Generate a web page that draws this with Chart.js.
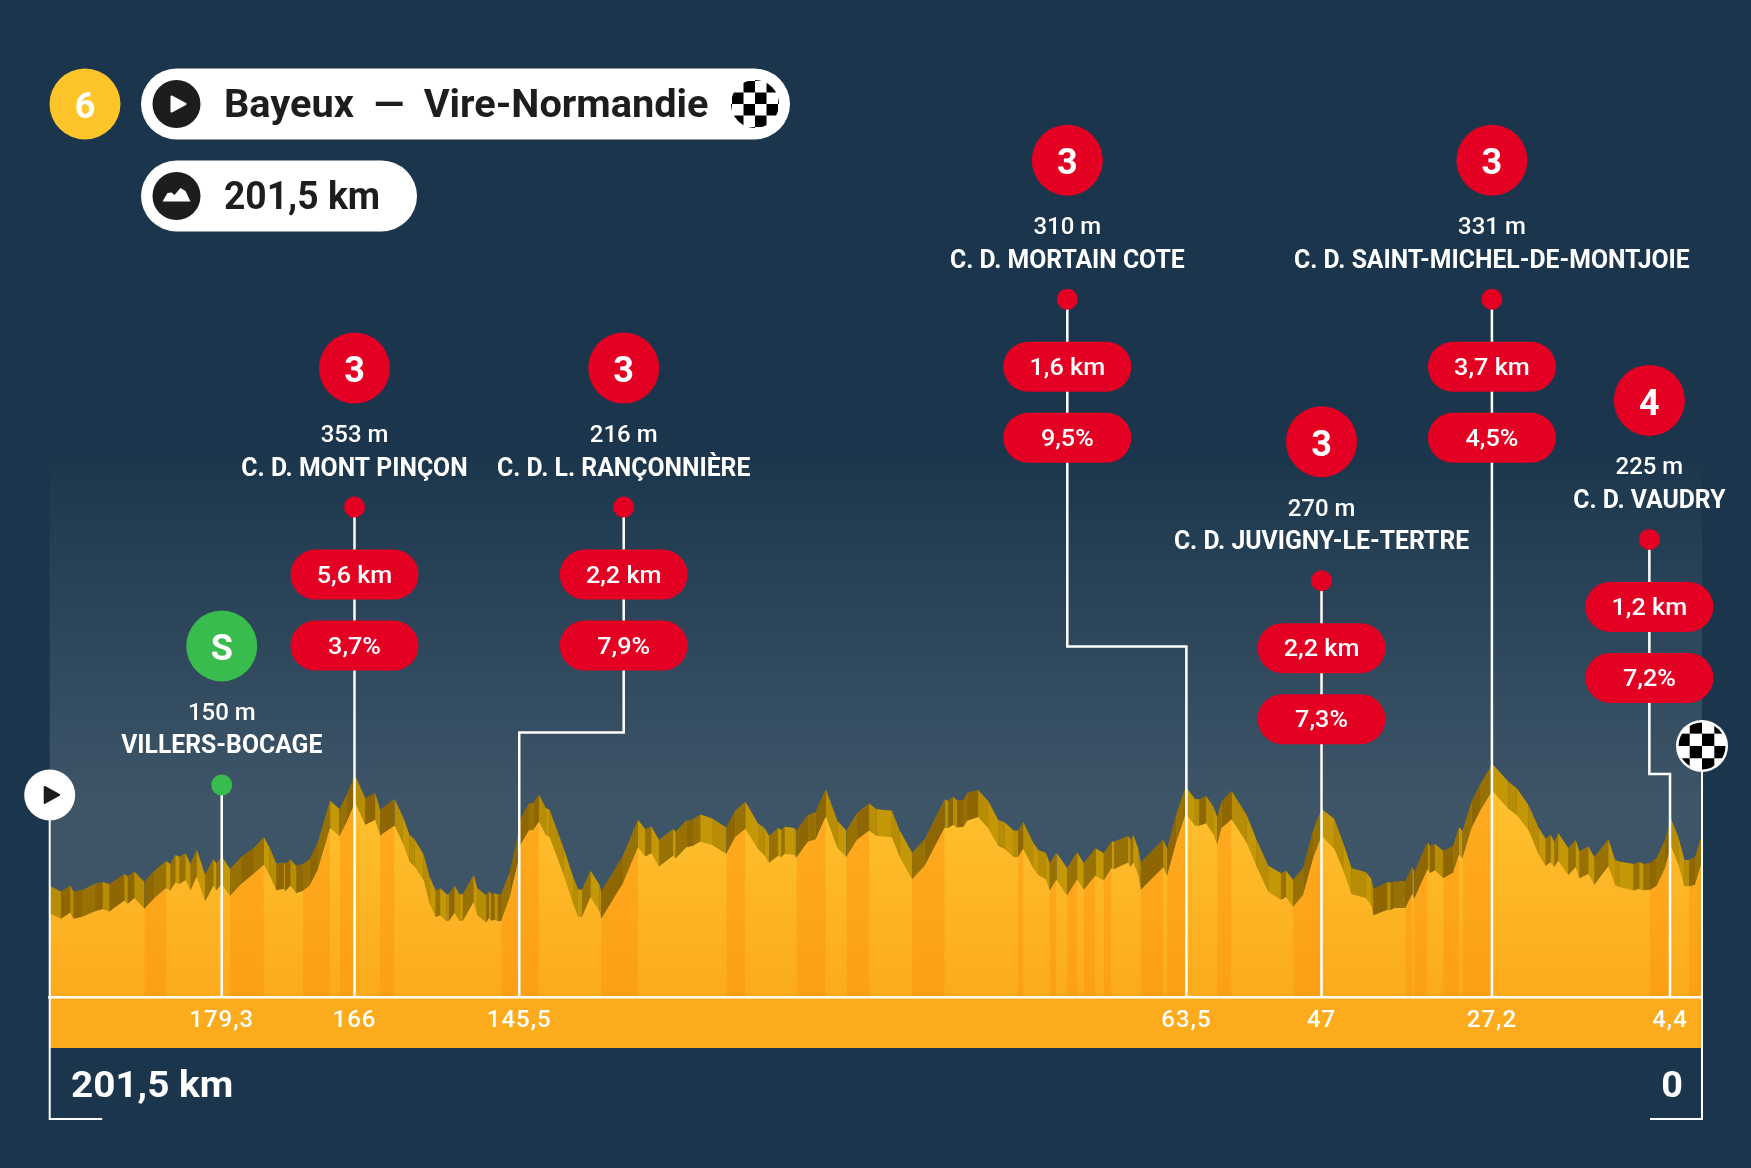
<!DOCTYPE html>
<html>
<head>
<meta charset="utf-8">
<title>Etape 6</title>
<script src="https://cdn.jsdelivr.net/npm/chart.js@4"></script>
<style>
  html, body { margin: 0; padding: 0; background: #1b364c; }
  canvas { display: block; }
</style>
</head>
<body>
<canvas id="chart" width="1751" height="1168"></canvas>
<script>
// profile: km to go, front edge and back ridge (m)
const profileKm = [201.5,200.12,198.98,198.61,197.47,196.05,195.03,194.22,192.39,191.98,191.17,189.95,188.73,187.31,186.78,186.17,185.68,184.95,184.34,183.56,182.55,181.53,181.2,180.51,179.5,178.15,176.53,175.39,174.7,173.88,172.95,172.79,172.14,171.44,170.63,169.82,168.8,167.3,166.16,165.34,164.25,163.03,161.81,161.2,159.45,158.43,157.62,157.01,155.91,155.18,154.44,153.88,153.14,152.82,152.13,151.52,151.11,149.81,149.36,148.26,147.94,147.65,147.25,146.84,146.44,145.42,144.36,144.08,143.06,142.49,141.84,141.03,140.54,138.83,137.69,137.08,136.59,135.54,134.44,134.24,131.59,129.76,128.87,128.13,127.2,125.49,125.17,123.86,123.05,122.16,120.73,118.98,117.89,116.67,115.12,114.31,113.78,112.68,112.27,111.87,110.73,110.44,109.02,108.08,106.86,105.44,104.34,103.04,101.58,100.68,98.81,97.84,96.33,94.79,92.35,91.94,91.33,90.84,90.03,89.62,88.28,87.06,85.84,85.03,83.93,83.4,82.79,81.57,80.96,80.03,79.54,78.73,77.42,76.2,75.39,73.97,72.95,72.01,71.69,69.98,69.7,69.37,68.76,68.44,65.71,65.22,64.08,62.95,61.85,61.32,60.5,59.61,59.12,58.59,57.37,55.54,54.32,52.9,51.35,50.74,49.85,48.63,47.41,46.39,44.85,43.75,42.74,40.99,40.3,40.09,38.38,37.98,37.57,36.15,35.33,35.09,33.46,33.18,32.57,31.55,30.33,29.64,29.19,28.09,27.08,25.57,23.62,22.6,21.18,19.96,19.07,18.46,18.01,17.52,16.3,15.41,14.96,13.86,13.13,11.42,10.61,10.0,8.37,7.64,7.15,6.34,5.52,4.51,3.77,2.88,2.15,1.58,0.85,0];
const frontElev = [52.3,48.7,52.7,48.7,50.2,53.3,54.8,53.3,60.2,58.1,61.7,55.2,61.7,67.9,66.2,71.6,70.4,72.9,66.4,75.2,59.6,69.4,66.4,70.6,63.1,70.4,77.3,82.5,76.2,66.7,67.3,66.0,69.4,64.8,66.2,69.4,79.4,105.6,100.4,108.5,121.4,107.5,110.6,100.8,107.1,96.0,84.6,81.4,73.1,58.5,49.8,51.0,47.5,47.3,52.3,47.5,47.3,59.2,51.0,46.4,49.2,47.5,48.1,47.3,47.3,61.7,84.6,95.0,103.9,104.4,109.6,101.2,99.8,76.2,58.5,50.2,49.8,62.3,53.3,48.7,71.0,93.5,87.7,89.8,81.4,88.1,86.4,93.5,94.4,97.1,95.0,89.4,99.8,105.0,92.3,88.3,83.7,88.1,87.3,89.4,88.7,87.1,97.1,98.5,112.7,92.9,87.5,98.1,103.9,100.6,99.8,87.3,73.5,81.9,105.8,105.4,107.5,105.8,106.4,110.0,112.3,105.4,94.4,92.3,87.3,87.3,92.5,80.4,76.2,73.5,66.4,73.1,63.3,73.5,66.9,75.8,72.7,80.4,79.8,83.9,81.0,83.9,76.2,66.9,81.0,75.6,97.1,114.4,107.1,106.9,108.5,101.9,95.0,105.4,111.0,96.4,81.4,65.8,60.6,62.3,56.2,63.7,86.6,100.6,92.5,79.0,64.2,61.7,56.9,50.9,54.4,54.0,55.5,55.7,64.4,61.3,79.8,77.3,79.0,74.2,77.7,88.8,86.7,105.4,115.9,128.8,117.5,113.8,104.4,89.4,81.7,84.2,81.1,85.0,76.1,81.1,74.0,76.9,70.0,81.5,70.0,68.6,66.5,67.3,66.5,66.9,69.4,80.5,94.0,82.5,69.0,69.0,70.0,84.6];
const ridgeElev = [69.4,65.8,69.6,65.8,66.9,70.6,71.9,70.4,76.9,75.2,78.3,71.9,78.7,84.8,83.1,88.7,87.5,89.8,83.1,91.9,76.2,86.2,83.3,87.7,80.0,87.3,93.5,99.8,93.5,83.5,83.9,83.1,86.0,81.9,83.1,86.0,96.4,122.7,117.3,125.6,138.3,124.2,127.3,116.9,123.7,112.7,101.2,98.5,89.1,75.2,66.4,67.9,64.4,64.2,69.4,64.2,64.2,76.2,67.9,63.5,66.0,64.4,64.8,63.9,64.2,77.3,101.2,111.6,121.0,121.4,126.2,118.3,116.9,92.9,75.2,67.3,66.9,78.9,70.0,65.8,88.1,110.6,104.8,106.6,98.1,104.8,103.3,110.2,111.0,114.1,111.6,106.0,116.4,122.1,108.5,105.4,100.6,105.4,104.4,106.4,105.6,103.9,113.7,115.4,129.8,110.0,103.9,114.8,121.0,117.3,116.4,103.9,90.2,98.5,123.5,122.5,125.2,122.7,123.1,127.3,129.4,122.5,110.6,109.1,103.9,103.9,109.4,96.4,91.9,90.2,83.5,90.2,80.4,90.4,83.5,92.9,89.8,97.1,97.1,100.6,98.1,101.2,92.9,83.9,98.5,92.5,114.4,131.4,123.7,123.5,125.6,119.0,112.3,122.1,128.7,113.7,98.1,82.1,77.3,78.9,73.1,80.4,104.4,117.5,111.3,96.1,80.5,78.0,73.6,67.3,71.7,71.5,72.1,72.5,81.5,78.0,96.7,94.4,95.7,91.3,94.4,106.1,103.8,122.1,132.5,145.7,134.6,130.4,120.0,106.1,98.8,101.3,97.1,102.3,93.0,98.2,90.9,94.0,87.3,98.6,85.7,84.6,83.2,84.2,83.2,83.6,86.7,98.2,111.1,99.8,85.7,85.7,87.3,101.3];
// km ranges of the darker orange strips (steep parts)
const steepFrom = [189.95,179.5,170.63,166.16,161.2,146.44,134.24,118.98,110.44,104.34,96.33,83.4,79.54,77.42,75.39,72.95,68.44,65.22,59.12,49.85,36.15,35.09,31.55,29.19,6.34,1.58];
const steepTo = [187.31,175.39,167.3,164.25,159.45,141.84,129.76,116.67,106.86,101.58,92.35,82.79,78.73,76.2,73.97,72.01,65.71,62.95,57.37,46.39,35.33,33.46,29.64,25.57,3.77,0];

// axis stops. the drawn axis is not to scale so the place a label sits differs a bit from its km
const stopLabels = ['179,3','166','145,5','63,5','47','27,2','4,4'];
const stopPos = [180.52,164.33,144.24,62.88,46.4,25.62,3.9];

// passages, same order as the stops
const passCat = ['S','3','3','3','3','3','4'];
const passHeight = ['150 m','353 m','216 m','310 m','270 m','331 m','225 m'];
const passName = ['VILLERS-BOCAGE','C. D. MONT PINÇON','C. D. L. RANÇONNIÈRE','C. D. MORTAIN COTE','C. D. JUVIGNY-LE-TERTRE','C. D. SAINT-MICHEL-DE-MONTJOIE','C. D. VAUDRY'];
const passLength = [null,'5,6 km','2,2 km','1,6 km','2,2 km','3,7 km','1,2 km'];
const passGrade = [null,'3,7%','7,9%','9,5%','7,3%','4,5%','7,2%'];
// where each label stack hangs: axis position and level of the dot, level of the elbow if any
const dotPos = [180.52,164.33,131.5,77.4,46.4,25.62,6.42];
const dotLevel = [132.5,306.2,306.2,436.1,260.2,436.1,286];
const elbowLevel = [null,null,165.3,219,null,null,139.4];

const stageNo = '6';
const stageTitle = 'Bayeux  —  Vire-Normandie';
const totalText = '201,5 km';
const endText = '0';

const RED = '#e30022', GREEN = '#39bc4e', YELLOW = '#fec52a', INK = '#1d1d1b', WHITE = '#ffffff';
const FONT = 'Roboto, sans-serif';

const canvas = document.getElementById('chart');
const c2d = canvas.getContext('2d');

const lightFill = c2d.createLinearGradient(0, 790, 0, 997);
lightFill.addColorStop(0, '#ffc12e');
lightFill.addColorStop(1, '#fbab1d');
const steepFill = c2d.createLinearGradient(0, 790, 0, 997);
steepFill.addColorStop(0, '#ffac20');
steepFill.addColorStop(1, '#fc9f16');

function isSteep(km) {
  return steepFrom.some((from, i) => km <= from && km >= steepTo[i]);
}

function toPoints(values) {
  return profileKm.map((km, i) => ({ x: km, y: values[i] }));
}

// leader line from the axis up to the dot, through the elbow when there is one
function leaderPath(i) {
  const pts = [{ x: stopPos[i], y: 0 }];
  if (elbowLevel[i] !== null) {
    pts.push({ x: stopPos[i], y: elbowLevel[i] });
    pts.push({ x: dotPos[i], y: elbowLevel[i] });
  }
  pts.push({ x: dotPos[i], y: dotLevel[i] });
  return pts;
}

const leaders = passName.map((name, i) => {
  const pts = leaderPath(i);
  return {
    label: name,
    data: pts,
    borderColor: WHITE,
    borderWidth: 2.5,
    borderJoinStyle: 'miter',
    fill: false,
    clip: false,
    order: 1,
    pointBorderWidth: 0,
    pointBackgroundColor: i === 0 ? GREEN : RED,
    pointRadius: c => (c.dataIndex === pts.length - 1 ? 10.5 : 0)
  };
});

function frameLine(label, pts) {
  return { label: label, data: pts, borderColor: WHITE, borderWidth: 2, borderJoinStyle: 'miter', pointRadius: 0, fill: false, clip: false, order: 2 };
}

function text(str, x, y, size, weight, color, sx, align) {
  const ctx = c2d;
  ctx.save();
  ctx.translate(x, y + size * 0.09);
  ctx.scale(sx || 1, 1);
  ctx.font = weight + ' ' + size + 'px ' + FONT;
  ctx.fillStyle = color;
  ctx.textBaseline = 'middle';
  ctx.textAlign = align || 'center';
  ctx.fillText(str, 0, 0);
  ctx.restore();
}

function disc(x, y, r, color) {
  c2d.fillStyle = color;
  c2d.beginPath();
  c2d.arc(x, y, r, 0, Math.PI * 2);
  c2d.fill();
}

function pill(x0, x1, y, h, color) {
  c2d.fillStyle = color;
  c2d.beginPath();
  c2d.roundRect(x0, y - h / 2, x1 - x0, h, h / 2);
  c2d.fill();
}

function triangle(x, y, left, right, half, color) {
  c2d.fillStyle = color;
  c2d.strokeStyle = color;
  c2d.lineWidth = 2;
  c2d.lineJoin = 'round';
  c2d.beginPath();
  c2d.moveTo(x + left + 1, y - half + 1);
  c2d.lineTo(x + right - 1, y);
  c2d.lineTo(x + left + 1, y + half - 1);
  c2d.closePath();
  c2d.fill();
  c2d.stroke();
}

function checker(x, y, r, cell) {
  c2d.save();
  c2d.beginPath();
  c2d.arc(x, y, r, 0, Math.PI * 2);
  c2d.clip();
  c2d.fillStyle = '#000';
  for (let row = -3; row < 3; row++) {
    for (let col = -3; col < 3; col++) {
      if (Math.abs(col + row) % 2 === 1) c2d.fillRect(x + col * cell, y + row * cell, cell, cell);
    }
  }
  c2d.restore();
}

function mountainIcon(x, y) {
  const shape = [[-14, 5.5], [-9, -3], [-5, -3.5], [-2, -1], [4, -8], [9, -5], [14, 5.5]];
  c2d.fillStyle = WHITE;
  c2d.beginPath();
  shape.forEach((p, i) => (i ? c2d.lineTo(x + p[0], y + p[1]) : c2d.moveTo(x + p[0], y + p[1])));
  c2d.closePath();
  c2d.fill();
}

// backdrop behind the profile, and the band the km labels sit on
const backdrop = {
  id: 'backdrop',
  beforeDraw(chart) {
    const a = chart.chartArea;
    const g = c2d.createLinearGradient(0, 450, 0, 800);
    g.addColorStop(0, '#1b364c');
    g.addColorStop(1, '#3e5568');
    c2d.fillStyle = '#1b364c';
    c2d.fillRect(0, 0, chart.width, chart.height);
    c2d.fillStyle = g;
    c2d.fillRect(a.left, 450, a.right - a.left, a.bottom - 450);
    c2d.fillStyle = '#fbab1b';
    c2d.fillRect(a.left, a.bottom, a.right - a.left, 51);
    c2d.letterSpacing = '1px'; // km labels are set a bit wide
  }
};

// header, badges and pills go on top of everything
const overlay = {
  id: 'overlay',
  afterDraw(chart) {
    const xs = chart.scales.x, ys = chart.scales.y;
    c2d.letterSpacing = '0px';

    disc(85, 104, 35.5, YELLOW);
    text(stageNo, 85, 106, 36, 700, WHITE);
    pill(141, 790, 104, 71, WHITE);
    disc(176.5, 104, 24, INK);
    triangle(176.5, 104, -6, 10, 8.5, WHITE);
    text(stageTitle, 224, 104, 38, 700, INK, 1.045, 'left');
    checker(755, 104, 24, 11.5);
    pill(141, 417, 196, 71, WHITE);
    disc(176.5, 196, 24, INK);
    mountainIcon(176.5, 196);
    text(totalText, 224, 196, 38, 700, INK, 0.98, 'left');

    passName.forEach((name, i) => {
      const x = xs.getPixelForValue(dotPos[i]);
      const y = ys.getPixelForValue(dotLevel[i]);
      disc(x, y - 139, 35.5, i === 0 ? GREEN : RED);
      text(passCat[i], x, y - 137, 36, 700, WHITE);
      text(passHeight[i], x, y - 73, 23.5, 500, WHITE, 1.02);
      text(name, x, y - 40, 25, 700, WHITE, 0.99);
      if (passLength[i]) {
        pill(x - 64, x + 64, y + 67.5, 50, RED);
        text(passLength[i], x, y + 67.5, 24, 500, WHITE, 1.05);
        pill(x - 64, x + 64, y + 138.5, 50, RED);
        text(passGrade[i], x, y + 138.5, 24, 500, WHITE, 1.05);
      }
    });

    const startX = xs.getPixelForValue(201.5), endX = xs.getPixelForValue(0);
    disc(startX, ys.getPixelForValue(126.25), 25.5, WHITE);
    triangle(startX, ys.getPixelForValue(126.25), -6, 10.5, 9, INK);
    disc(endX, ys.getPixelForValue(156.9), 26, WHITE);
    checker(endX, ys.getPixelForValue(156.9), 23.5, 12.3);

    text(totalText, 71, 1085, 36, 700, WHITE, 1.075, 'left');
    text(endText, 1672, 1085, 36, 700, WHITE, 1.05);
  }
};

new Chart(c2d, {
  type: 'line',
  plugins: [backdrop, overlay],
  data: {
    datasets: [
      {
        label: 'profile',
        data: toPoints(frontElev),
        borderWidth: 0,
        pointRadius: 0,
        fill: 'origin',
        order: 4,
        segment: {
          backgroundColor: c => (isSteep((c.p0.parsed.x + c.p1.parsed.x) / 2) ? steepFill : lightFill)
        }
      },
      {
        label: 'ridge',
        data: toPoints(ridgeElev),
        borderWidth: 0,
        pointRadius: 0,
        fill: 0,
        order: 6,
        // faces going up are in shadow, the ones going down catch the light
        segment: {
          backgroundColor: c => {
            const odd = c.p0DataIndex % 2 === 1;
            if (c.p1.parsed.y > c.p0.parsed.y) return odd ? '#8e6703' : '#987104';
            return odd ? '#c49707' : '#b78d06';
          }
        }
      },
      // solid layers underneath so no seams show between the strips
      { label: 'ridge base', data: toPoints(ridgeElev), borderWidth: 0, pointRadius: 0, fill: 0, order: 7, backgroundColor: '#a67e05' },
      { label: 'profile base', data: toPoints(frontElev), borderWidth: 0, pointRadius: 0, fill: 'origin', order: 5, backgroundColor: lightFill },
      frameLine('start', [{ x: 201.5, y: 126.25 }, { x: 201.5, y: -76.25 }, { x: 195.1, y: -76.25 }]),
      frameLine('finish', [{ x: 0, y: 156.9 }, { x: 0, y: -76.25 }, { x: 6.34, y: -76.25 }]),
      ...leaders
    ]
  },
  options: {
    responsive: false,
    animation: false,
    devicePixelRatio: 1,
    layout: { padding: { left: 49.7, right: 49, top: 0, bottom: 0 } },
    plugins: { legend: { display: false }, tooltip: { enabled: false } },
    elements: { line: { tension: 0 } },
    scales: {
      x: {
        type: 'linear',
        reverse: true,
        min: 0,
        max: 201.5,
        grid: { display: false, drawTicks: false },
        border: { display: true, color: WHITE, width: 2.5, z: 3 },
        afterBuildTicks: s => { s.ticks = stopPos.map(v => ({ value: v })); },
        afterFit: s => { s.height = 171; },
        ticks: {
          autoSkip: false,
          maxRotation: 0,
          padding: 10,
          color: WHITE,
          font: { family: FONT, size: 24, weight: 500 },
          callback: v => stopLabels[stopPos.indexOf(v)]
        }
      },
      y: { display: false, min: 0, max: 616.56 }
    }
  }
});
</script>
</body>
</html>
